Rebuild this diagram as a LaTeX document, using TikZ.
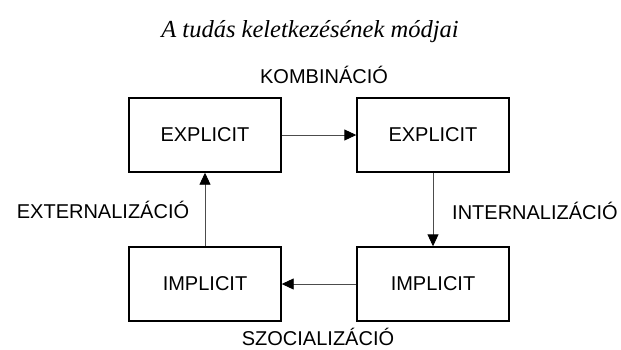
\documentclass[tikz,border=0pt]{standalone}
\usepackage{fontspec}
\setmainfont{Liberation Serif}
\setsansfont{Liberation Sans}
\usetikzlibrary{arrows.meta}
\begin{document}
\begin{tikzpicture}[x=1pt,y=-1pt,
  box/.style={draw=black,line width=1.4pt,minimum width=152pt,minimum height=74pt,inner sep=0pt,font=\sffamily\fontsize{20}{22}\selectfont},
  lbl/.style={font=\sffamily\fontsize{20}{22}\selectfont,inner sep=0pt},
  conn/.style={draw=black!70,line width=0.9pt,-{Triangle[length=12pt,width=11pt,color=black]}}]
\useasboundingbox (0,0) rectangle (621,349);
\node[font=\rmfamily\itshape\fontsize{24.5}{27}\selectfont,inner sep=0pt] (title) at (310,32) {A tudás keletkezésének módjai};
\node[box] (tl) at (205,135) {EXPLICIT};
\node[box] (tr) at (433,135) {EXPLICIT};
\node[box] (bl) at (205,284) {IMPLICIT};
\node[box] (br) at (433,284) {IMPLICIT};
\draw[conn] (tl) -- (tr);
\draw[conn] (tr) -- (br);
\draw[conn] (br) -- (bl);
\draw[conn] (bl) -- (tl);
\node[lbl] (komb) at (324,75) {KOMBINÁCIÓ};
\node[lbl] (ext) at (103,210) {EXTERNALIZÁCIÓ};
\node[lbl] (int) at (535,211) {INTERNALIZÁCIÓ};
\node[lbl] (szoc) at (318,337) {SZOCIALIZÁCIÓ};
\end{tikzpicture}
\end{document}
